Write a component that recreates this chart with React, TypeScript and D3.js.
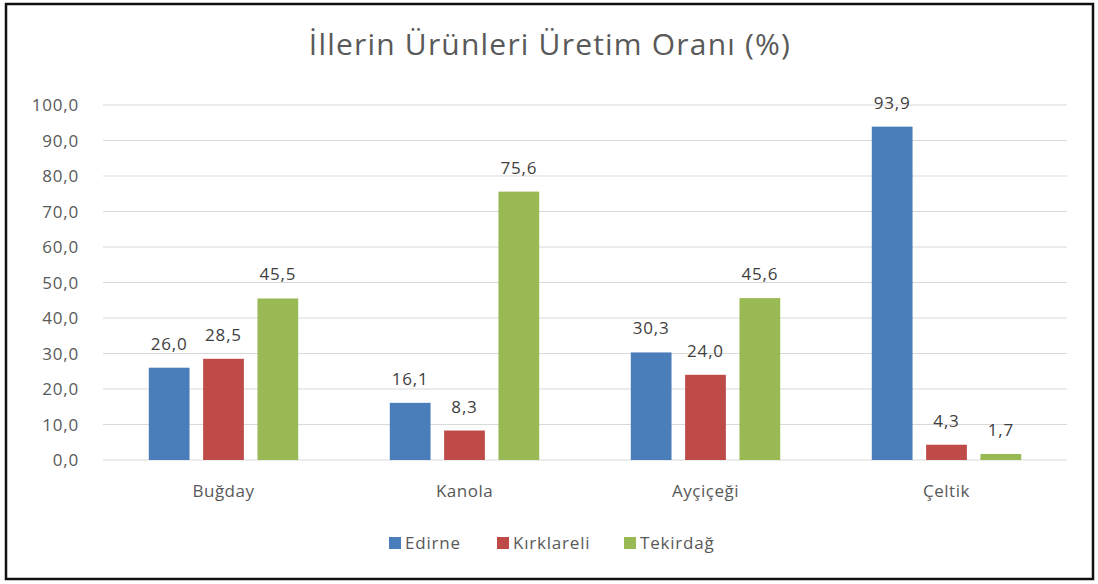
import React, { useEffect, useRef } from "react";
import * as d3 from "d3";

const categories = ["Buğday", "Kanola", "Ayçiçeği", "Çeltik"];
const seriesNames = ["Edirne", "Kırklareli", "Tekirdağ"];
const edirne = [26.0, 16.1, 30.3, 93.9];
const kirklareli = [28.5, 8.3, 24.0, 4.3];
const tekirdag = [45.5, 75.6, 45.6, 1.7];
const yTicks = [0, 10, 20, 30, 40, 50, 60, 70, 80, 90, 100];
const colors = ["#4a7ebb", "#be4b48", "#98b954"];

const fmt = (v: number) => v.toFixed(1).replace(".", ",");

function drawChart(node: SVGSVGElement) {
  const width = 1098;
  const height = 584;
  const margin = { top: 105, right: 31, bottom: 124, left: 103 };
  const font = "'Open Sans', Lato, sans-serif";
  const textColor = "#595959";

  const svg = d3.select(node);
  svg.selectAll("*").remove();

  svg
    .append("rect")
    .attr("x", 0)
    .attr("y", 0)
    .attr("width", width)
    .attr("height", height)
    .attr("fill", "#fff");

  svg
    .append("rect")
    .attr("x", 6)
    .attr("y", 4)
    .attr("width", 1087)
    .attr("height", 575)
    .attr("fill", "#fff")
    .attr("stroke", "#111")
    .attr("stroke-width", 2.5);

  const x0 = d3
    .scaleBand()
    .domain(categories)
    .range([margin.left, width - margin.right])
    .paddingInner(0.38)
    .paddingOuter(0.19);

  const x1 = d3
    .scaleBand()
    .domain(seriesNames)
    .range([0, x0.bandwidth()])
    .paddingInner(0.25);

  const y = d3
    .scaleLinear()
    .domain([0, 100])
    .range([height - margin.bottom, margin.top]);

  // title
  svg
    .append("text")
    .attr("x", 550)
    .attr("y", 55)
    .attr("text-anchor", "middle")
    .style("font-family", font)
    .style("font-size", "30px")
    .style("letter-spacing", "1.2px")
    .style("fill", textColor)
    .text("İllerin Ürünleri Üretim Oranı (%)");

  // grid + y labels
  const grid = svg.append("g");
  yTicks.forEach((t) => {
    grid
      .append("line")
      .attr("x1", margin.left)
      .attr("x2", width - margin.right)
      .attr("y1", y(t))
      .attr("y2", y(t))
      .attr("stroke", "#d9d9d9")
      .attr("stroke-width", 1.2);
    grid
      .append("text")
      .attr("x", 79)
      .attr("y", y(t))
      .attr("dy", "0.36em")
      .attr("text-anchor", "end")
      .style("font-family", font)
      .style("font-size", "17px")
      .style("letter-spacing", "0.8px")
      .style("fill", textColor)
      .text(fmt(t));
  });

  const values = [edirne, kirklareli, tekirdag];

  // bars
  categories.forEach((cat, i) => {
    const g = svg.append("g").attr("transform", `translate(${x0(cat)},0)`);
    seriesNames.forEach((s, j) => {
      const v = values[j][i];
      g.append("rect")
        .attr("x", x1(s)!)
        .attr("y", y(v))
        .attr("width", x1.bandwidth())
        .attr("height", y(0) - y(v))
        .attr("fill", colors[j]);
      g.append("text")
        .attr("x", x1(s)! + x1.bandwidth() / 2)
        .attr("y", y(v) - 18)
        .attr("text-anchor", "middle")
        .style("font-family", font)
        .style("font-size", "17px")
        .style("letter-spacing", "0.8px")
        .style("fill", "#404040")
        .text(fmt(v));
    });
    svg
      .append("text")
      .attr("x", x0(cat)! + x0.bandwidth() / 2)
      .attr("y", 497)
      .attr("text-anchor", "middle")
      .style("font-family", font)
      .style("font-size", "17px")
      .style("letter-spacing", "0.5px")
      .style("fill", textColor)
      .text(cat);
  });

  // legend
  const legendX = [389, 497, 624];
  const legend = svg.append("g");
  seriesNames.forEach((s, j) => {
    legend
      .append("rect")
      .attr("x", legendX[j])
      .attr("y", 537)
      .attr("width", 12)
      .attr("height", 12)
      .attr("fill", colors[j]);
    legend
      .append("text")
      .attr("x", legendX[j] + 16)
      .attr("y", 549)
      .style("font-family", font)
      .style("font-size", "17px")
      .style("letter-spacing", "0.8px")
      .style("fill", textColor)
      .text(s);
  });
}

export default function App() {
  const ref = useRef<SVGSVGElement>(null);

  useEffect(() => {
    if (ref.current) drawChart(ref.current);
  }, []);

  return (
    <svg
      ref={ref}
      width={1098}
      height={584}
      style={{ position: "absolute", left: 0, top: 0 }}
    />
  );
}
